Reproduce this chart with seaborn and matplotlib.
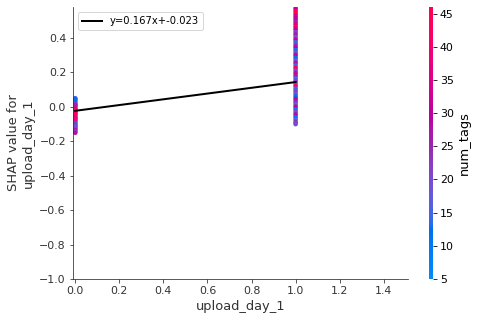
import numpy as np
import pandas as pd
import matplotlib
matplotlib.use("Agg")
import matplotlib.pyplot as plt
from matplotlib.colors import LinearSegmentedColormap, Normalize
from matplotlib.cm import ScalarMappable
import seaborn as sns

# ---------------- data ----------------
feature_name = "upload_day_1"
color_feature = "num_tags"

shap_day0 = [0.05, 0.04, 0.032, 0.025, 0.018, 0.01, 0.004, -0.003, -0.01, -0.016,
             -0.022, -0.028, -0.035, -0.041, -0.048, -0.055, -0.06, -0.066, -0.073,
             -0.08, -0.086, -0.092, -0.099, -0.105, -0.112, -0.118, -0.125, -0.131,
             -0.138, -0.145, -0.15, 0.045, 0.012, -0.04, -0.07, -0.11]
tags_day0 = [16, 14, 19, 13, 22, 17, 30, 44, 28, 45, 38, 20, 42, 31, 18, 41, 24,
             40, 15, 33, 19, 22, 14, 36, 21, 27, 16, 30, 25, 18, 28, 12, 26, 43, 39, 20]

shap_day1 = [0.60, 0.585, 0.57, 0.555, 0.54, 0.525, 0.51, 0.495, 0.48, 0.465, 0.45,
             0.435, 0.42, 0.405, 0.39, 0.375, 0.36, 0.345, 0.33, 0.315, 0.30, 0.285,
             0.27, 0.255, 0.24, 0.225, 0.21, 0.195, 0.18, 0.165, 0.15, 0.135, 0.12,
             0.105, 0.09, 0.075, 0.06, 0.045, 0.03, 0.015, 0.0, -0.015, -0.03,
             -0.045, -0.06, -0.075, -0.09, -0.10]
tags_day1 = [30, 28, 33, 44, 45, 31, 29, 26, 35, 42, 30, 22, 27, 19, 32, 14, 24, 29,
             13, 20, 31, 12, 18, 28, 15, 44, 21, 33, 27, 16, 23, 17, 43, 14, 22, 19,
             12, 30, 25, 18, 31, 13, 20, 29, 11, 17, 24, 20]

fit_slope = 0.167
fit_intercept = -0.023
fit_x = [0.0, 1.0]

x_ticks = [0.0, 0.2, 0.4, 0.6, 0.8, 1.0, 1.2, 1.4]
y_ticks = [-1.0, -0.8, -0.6, -0.4, -0.2, 0.0, 0.2, 0.4]
cbar_ticks = [5, 10, 15, 20, 25, 30, 35, 40, 45]

# ---------------- SHAP red_blue colormap (LCH interpolation) ----------------
def lch2rgb(lch):
    L, C, H = lch
    a = C * np.cos(H)
    b = C * np.sin(H)
    y = (L + 16.0) / 116.0
    x = a / 500.0 + y
    z = max(y - b / 200.0, 0.0)
    out = []
    for v in (x, y, z):
        out.append(v ** 3 if v > 0.2068966 else (v - 16.0 / 116.0) / 7.787)
    xyz = np.array(out) * np.array([0.95047, 1.0, 1.08883])
    M = np.array([[3.24048134, -1.53715152, -0.49853633],
                  [-0.96925495, 1.87599, 0.04155593],
                  [0.05564664, -0.20404134, 1.05731107]])
    rgb = M @ xyz
    rgb = np.where(rgb > 0.0031308, 1.055 * np.power(np.clip(rgb, 1e-12, None), 1 / 2.4) - 0.055, rgb * 12.92)
    return np.clip(rgb, 0, 1)

blue_lch = [54.0, 70.0, 4.6588]
l_mid = 40.0
red_lch = [54.0, 90.0, 0.35470565 + 2 * np.pi]
nsteps = 100
l_vals = list(np.linspace(blue_lch[0], l_mid, nsteps // 2)) + list(np.linspace(l_mid, red_lch[0], nsteps // 2))
c_vals = np.linspace(blue_lch[1], red_lch[1], nsteps)
h_vals = np.linspace(blue_lch[2], red_lch[2], nsteps)
cols = [lch2rgb([l, c, h]) for l, c, h in zip(l_vals, c_vals, h_vals)]
red_blue = LinearSegmentedColormap.from_list("red_blue", cols)

# ---------------- figure ----------------
df = pd.DataFrame({
    feature_name: [0.0] * len(shap_day0) + [1.0] * len(shap_day1),
    "shap": shap_day0 + shap_day1,
    color_feature: tags_day0 + tags_day1,
})
line_df = pd.DataFrame({"x": fit_x, "y": [fit_slope * v + fit_intercept for v in fit_x]})

axis_color = "#333333"
fig = plt.figure(figsize=(478 / 72, 320 / 72), dpi=72)
ax = fig.add_axes([73 / 478, 1 - 279 / 320, 335 / 478, 272 / 320])
norm = Normalize(vmin=5, vmax=46)

sns.scatterplot(data=df, x=feature_name, y="shap", hue=color_feature, palette=red_blue,
                hue_norm=norm, s=22, linewidth=0, legend=False, ax=ax, zorder=2)
sns.lineplot(data=line_df, x="x", y="y", color="black", linewidth=2,
             label=f"y={fit_slope}x+{fit_intercept}", ax=ax, zorder=3)

ax.set_xlim(-0.01, 1.51)
ax.set_ylim(-1.0, 0.58)
ax.set_xticks(x_ticks)
ax.set_yticks(y_ticks)
ax.set_xlabel(feature_name, fontsize=13, color=axis_color)
ax.set_ylabel("SHAP value for\n" + feature_name, fontsize=13, color=axis_color)
ax.tick_params(labelsize=11, color=axis_color, labelcolor=axis_color)
ax.spines["right"].set_visible(False)
ax.spines["top"].set_visible(False)
ax.spines["left"].set_color(axis_color)
ax.spines["bottom"].set_color(axis_color)
ax.legend(loc="upper left", fontsize=10)

cax = fig.add_axes([429 / 478, 1 - 279 / 320, 4 / 478, 272 / 320])
sm = ScalarMappable(norm=norm, cmap=red_blue)
cb = fig.colorbar(sm, cax=cax, ticks=cbar_ticks)
cb.outline.set_visible(False)
cb.ax.tick_params(labelsize=11)
cb.set_label(color_feature, size=13)

fig.savefig("out.png", dpi=72)
